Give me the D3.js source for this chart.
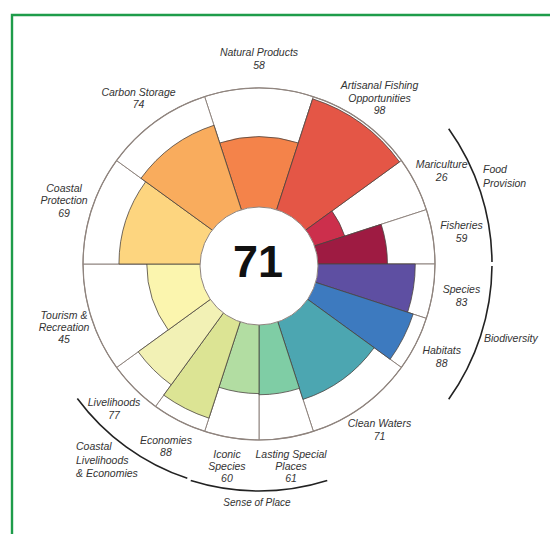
<!DOCTYPE html>
<html>
<head>
<meta charset="utf-8">
<script src="https://cdn.jsdelivr.net/npm/d3@7"></script>
<style>
  html, body { margin: 0; padding: 0; background: #fff; }
  svg { display: block; }
  text { font-family: "Liberation Sans", Arial, sans-serif; }
</style>
</head>
<body>
<svg id="chart" width="550" height="534"></svg>
<script>
// ---- data (clockwise from the top) ----
const goals   = ["Natural Products","Artisanal Fishing Opportunities","Mariculture","Fisheries","Species","Habitats","Clean Waters","Lasting Special Places","Iconic Species","Economies","Livelihoods","Tourism & Recreation","Coastal Protection","Carbon Storage"];
const scores  = [58, 98, 26, 59, 83, 88, 71, 61, 60, 88, 77, 45, 69, 74];
const weights = [1, 1, 0.5, 0.5, 0.5, 0.5, 1, 0.5, 0.5, 0.5, 0.5, 1, 1, 1];
const colors  = ["#F4834A","#E45646","#CC2F4C","#9E1B42","#5E4FA2","#3D7ABF","#4CA6B1","#7FCDA5","#B2DDA2","#DCE494","#F2F1B5","#FBF5AE","#FDD57F","#F9AC5D"];
const labelLines = [
  ["Natural Products","58"],
  ["Artisanal Fishing","Opportunities","98"],
  ["Mariculture","26"],
  ["Fisheries","59"],
  ["Species","83"],
  ["Habitats","88"],
  ["Clean Waters","71"],
  ["Lasting Special","Places","61"],
  ["Iconic","Species","60"],
  ["Economies","88"],
  ["Livelihoods","77"],
  ["Tourism &","Recreation","45"],
  ["Coastal","Protection","69"],
  ["Carbon Storage","74"]
];
const overallScore = 71;
const groupNames  = ["Food Provision","Biodiversity","Sense of Place","Coastal Livelihoods & Economies"];
const groupMembers = [[2,3],[4,5],[7,8],[9,10]];

// ---- layout ----
const cx = 259, cy = 264;
const svg = d3.select("#chart");

// green frame
svg.append("path")
  .attr("d", "M12,534 L12,15 L550,15")
  .attr("fill", "none").attr("stroke", "#1e9c4a").attr("stroke-width", 2.4);

const g = svg.append("g").attr("transform", `translate(${cx},${cy})`);

const total = d3.sum(weights);
const angle = d3.scaleLinear().domain([0, total]).range([-Math.PI/10, 2*Math.PI - Math.PI/10]);
const radius = d3.scaleLinear().domain([0, 100]).range([60, 176]);

let cum = 0;
const petals = goals.map((name, i) => {
  const s = angle(cum); cum += weights[i]; const e = angle(cum);
  return {name, score: scores[i], start: s, end: e, mid: (s+e)/2, color: colors[i], lines: labelLines[i]};
});

const arc = d3.arc();

// full-length white petals
g.selectAll("path.bg").data(petals).join("path")
  .attr("class","bg")
  .attr("d", d => arc({innerRadius: 0, outerRadius: radius(100), startAngle: d.start, endAngle: d.end}))
  .attr("fill", "#fff").attr("stroke", "#8f847e").attr("stroke-width", 1);

// score petals
g.selectAll("path.petal").data(petals).join("path")
  .attr("class","petal")
  .attr("d", d => arc({innerRadius: 0, outerRadius: radius(d.score), startAngle: d.start, endAngle: d.end}))
  .attr("fill", d => d.color).attr("stroke", "#4a4440").attr("stroke-width", 0.8);

// outer circle
g.append("circle").attr("r", radius(100)).attr("fill","none").attr("stroke","#8f847e").attr("stroke-width",1.2);

// inner circle
g.append("circle").attr("r", 59).attr("cy", 2).attr("fill","#fff").attr("stroke","#8f847e").attr("stroke-width",1);

// centre score
g.append("text").attr("x", -1).attr("y", 13)
  .attr("text-anchor","middle")
  .attr("font-size", 45).attr("font-weight","bold").attr("fill","#111")
  .text(overallScore);

// goal labels
const labelR = 205, lh = 12.4;
petals.forEach(d => {
  const x = labelR * Math.sin(d.mid), y = -labelR * Math.cos(d.mid);
  const n = d.lines.length;
  const t = g.append("text")
    .attr("text-anchor","middle").attr("font-size", 10.5).attr("font-style","italic").attr("fill","#333");
  d.lines.forEach((ln, k) => {
    t.append("tspan").attr("x", x).attr("y", y - (n-1)*lh/2 + k*lh + 3.6).text(ln);
  });
});

// group arcs
const groupR = [233, 233, 227, 226];
const pad = 0.5 * Math.PI / 180;
groupMembers.forEach((m, i) => {
  const a0 = d3.min(m, j => petals[j].start) + pad;
  const a1 = d3.max(m, j => petals[j].end) - pad;
  const r = groupR[i];
  const p = d3.path();
  p.arc(0, 0, r, a0 - Math.PI/2, a1 - Math.PI/2, false);
  g.append("path").attr("d", p.toString()).attr("fill","none").attr("stroke","#222").attr("stroke-width",1.6);
});

// group labels
function groupLabel(lines, x, y, anchor, size) {
  const t = svg.append("text").attr("text-anchor", anchor).attr("font-size", size)
    .attr("font-style","italic").attr("fill","#333");
  lines.forEach((ln, k) => t.append("tspan").attr("x", x).attr("y", y + k*13.5).text(ln));
}
groupLabel(["Food","Provision"], 483, 173, "start", 10.5);
groupLabel([groupNames[1]], 484, 342, "start", 10.5);
groupLabel([groupNames[2]], 257, 506, "middle", 10);
groupLabel(["Coastal","Livelihoods","& Economies"], 76, 450, "start", 10.5);
</script>
</body>
</html>
